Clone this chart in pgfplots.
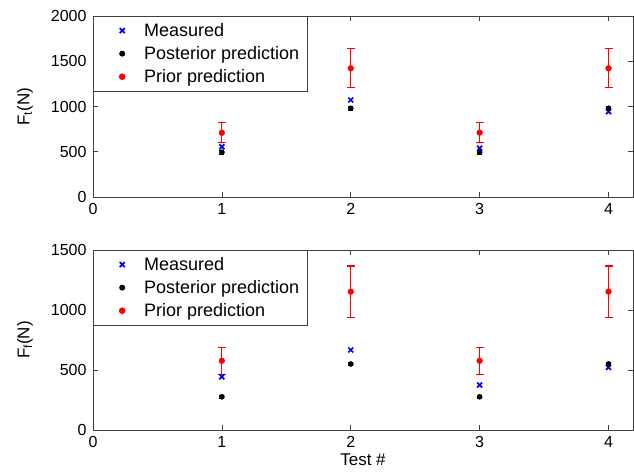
\documentclass[border=0pt]{standalone}
\usepackage{pgfplots}
\pgfplotsset{compat=1.18}
\usepackage{fontspec}
\setmainfont{Liberation Sans}
\definecolor{mblue}{RGB}{0,0,255}
\definecolor{mred}{RGB}{255,0,0}
\pgfplotsset{
  myax/.style={
    scale only axis,
    width=540pt,
    xmin=0, xmax=4.19,
    xtick={0,1,2,3,4},
    tick align=inside,
    major tick length=5pt,
    axis line style={black!75, line width=0.7pt},
    every tick/.style={black!75, line width=0.7pt},
    tick label style={font=\fontsize{16}{19}\selectfont},
    /pgf/number format/assume math mode=true,
    /pgf/number format/1000 sep={},
    xticklabel style={yshift=-3pt},
    yticklabel style={xshift=-3pt},
    label style={font=\fontsize{17}{20}\selectfont},
    ylabel style={at={(axis description cs:-0.126,0.5)}, anchor=center},
    legend cell align=left,
    legend image code/.code={\path (0pt,0pt) (41pt,0pt); \draw[mark repeat=1,##1] plot coordinates {(22pt,0pt)};},
    legend style={at={(axis description cs:0,1)}, anchor=north west,
      draw=black!75, line width=0.7pt, font=\fontsize{18}{21}\selectfont,
      inner xsep=6pt, inner ysep=5pt, row sep=4.5pt},
  },
  meas/.style={only marks, mark=x, mark size=3.5pt, mblue, line width=1.7pt},
  post/.style={only marks, mark=*, mark size=2.6pt, black,
    error bars/.cd, y dir=both, y explicit,
    error bar style={black, line width=0.8pt},
    error mark options={rotate=90, black, mark size=2.5pt, line width=0.8pt}},
  prior/.style={only marks, mark=*, mark size=2.9pt, mred,
    error bars/.cd, y dir=both, y explicit,
    error bar style={mred, line width=1.1pt},
    error mark options={rotate=90, mred, mark size=4pt, line width=1.1pt}},
}
\begin{document}
\begin{tikzpicture}
\path[use as bounding box] (0pt,0pt) rectangle (634pt,472pt);
\begin{axis}[myax, at={(93pt,275pt)}, anchor=south west, height=181pt,
  ymin=0, ymax=2000, ytick={0,500,1000,1500,2000},
  ylabel={F\textsubscript{t}(N)}]
\addplot[meas] coordinates {(1,556) (2,1072) (3,538) (4,943)};
\addlegendentry{Measured}
\addplot[post] coordinates {(1,494) +- (0,18) (2,980) +- (0,18) (3,494) +- (0,18) (4,980) +- (0,18)};
\addlegendentry{Posterior prediction}
\addplot[prior] coordinates {(1,710) +- (0,110) (2,1422) +- (0,216) (3,712) +- (0,110) (4,1422) +- (0,216)};
\addlegendentry{Prior prediction}
\end{axis}
\begin{axis}[myax, at={(93pt,42pt)}, anchor=south west, height=180pt,
  ymin=0, ymax=1500, ytick={0,500,1000,1500},
  ylabel={F\textsubscript{f}(N)},
  xlabel={Test \#},
  xlabel style={at={(axis description cs:0.5,-0.167)}, anchor=center}]
\addplot[meas] coordinates {(1,444) (2,667) (3,375) (4,522)};
\addlegendentry{Measured}
\addplot[post] coordinates {(1,277) +- (0,12) (2,550) +- (0,15) (3,277) +- (0,12) (4,550) +- (0,15)};
\addlegendentry{Posterior prediction}
\addplot[prior] coordinates {(1,577) +- (0,113) (2,1153) +- (0,214) (3,577) +- (0,113) (4,1153) +- (0,214)};
\addlegendentry{Prior prediction}
\end{axis}
\end{tikzpicture}
\end{document}
